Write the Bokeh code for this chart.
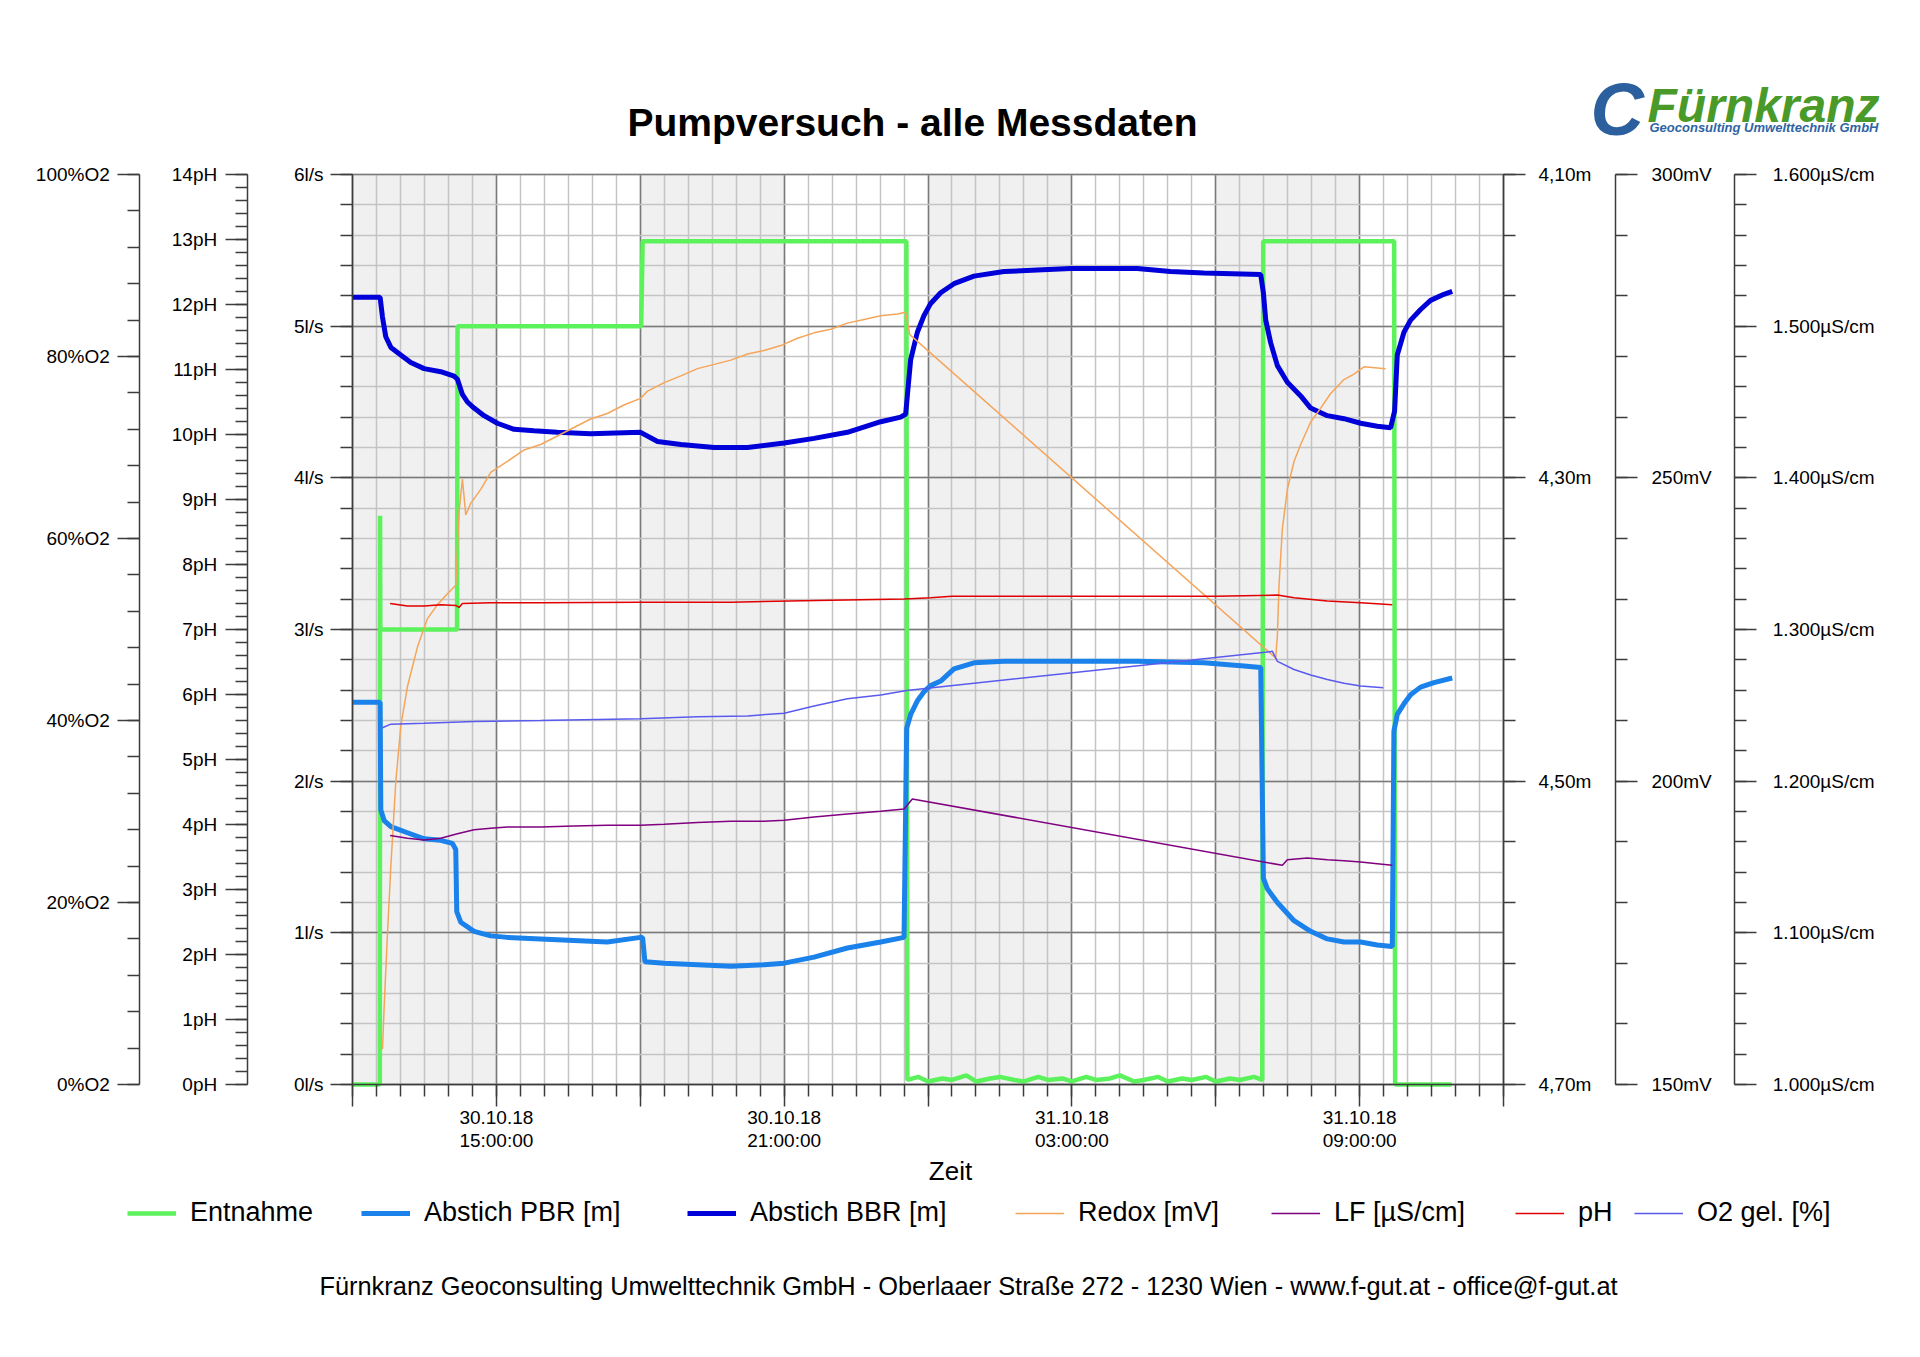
from bokeh.plotting import figure
from bokeh.models import (Range1d, LinearAxis, FixedTicker, PrintfTickFormatter,
                          Label, Legend, LegendItem, Grid)
from bokeh.embed import file_html
from bokeh.resources import INLINE

FONT = "Liberation Sans"
AXIS_COLOR = "#3c3c3c"

# time in hours after 30.10.18 12:00:00
shaded_from = [0, 6, 12, 18]
shaded_to = [3, 9, 15, 21]

entnahme_t = [0.0, 0.57, 0.575, 0.58, 2.18, 2.19, 6.02, 6.05, 11.55, 11.57, 11.8, 12.0, 12.3, 12.5, 12.8,
              13.0, 13.3, 13.5, 13.8, 14.0, 14.3, 14.5, 14.8, 15.0, 15.3, 15.5, 15.8, 16.0, 16.3, 16.5,
              16.8, 17.0, 17.3, 17.5, 17.8, 18.0, 18.3, 18.5, 18.8, 18.97, 18.99, 21.72, 21.74, 22.92]
entnahme_ls = [0.0, 0.0, 3.75, 3.0, 3.0, 5.0, 5.0, 5.56, 5.56, 0.03, 0.05, 0.02, 0.04, 0.03, 0.06,
               0.02, 0.04, 0.05, 0.03, 0.02, 0.05, 0.03, 0.04, 0.02, 0.05, 0.03, 0.04, 0.06, 0.02, 0.03,
               0.05, 0.02, 0.04, 0.03, 0.05, 0.02, 0.04, 0.03, 0.05, 0.03, 5.56, 5.56, 0.0, 0.0]

pbr_t = [0.0, 0.576, 0.59, 0.66, 0.80, 1.146, 1.493, 1.84, 2.083, 2.153, 2.174, 2.257, 2.535, 2.882,
         3.229, 3.924, 4.618, 5.313, 6.007, 6.049, 6.097, 6.5, 7.194, 7.889, 8.583, 9.0, 9.625, 10.319,
         11.014, 11.5, 11.556, 11.639, 11.778, 11.917, 12.056, 12.264, 12.542, 12.958, 13.583, 14.972,
         16.361, 17.75, 18.59, 18.938, 18.993, 19.076, 19.285, 19.632, 19.979, 20.326, 20.674, 21.021,
         21.368, 21.681, 21.715, 21.785, 21.924, 22.063, 22.271, 22.549, 22.931]
pbr_m = [4.448, 4.448, 4.519, 4.526, 4.530, 4.534, 4.538, 4.539, 4.541, 4.545, 4.586, 4.593, 4.599, 4.602,
         4.603, 4.604, 4.605, 4.606, 4.603, 4.603, 4.619, 4.620, 4.621, 4.622, 4.621, 4.620, 4.616, 4.610,
         4.606, 4.603, 4.465, 4.456, 4.447, 4.441, 4.437, 4.434, 4.426, 4.422, 4.421, 4.421,
         4.421, 4.422, 4.424, 4.425, 4.564, 4.571, 4.580, 4.592, 4.599, 4.604, 4.606, 4.606,
         4.608, 4.609, 4.467, 4.456, 4.449, 4.443, 4.438, 4.435, 4.432]

bbr_t = [0.0, 0.576, 0.625, 0.694, 0.80, 1.007, 1.215, 1.493, 1.84, 2.118, 2.188, 2.292, 2.396, 2.535,
         2.743, 3.021, 3.368, 3.785, 4.271, 4.965, 6.007, 6.361, 6.847, 7.542, 8.236, 9.0, 9.625, 10.319,
         11.014, 11.431, 11.535, 11.583, 11.639, 11.778, 11.917, 12.056, 12.264, 12.542, 12.958, 13.583,
         14.278, 14.972, 15.667, 16.361, 17.056, 17.75, 18.938, 18.993, 19.042, 19.146, 19.285, 19.493,
         19.771, 19.979, 20.326, 20.674, 21.021, 21.368, 21.646, 21.729, 21.785, 21.924, 22.063, 22.271,
         22.479, 22.757, 22.931]
bbr_m = [4.181, 4.181, 4.194, 4.207, 4.214, 4.219, 4.224, 4.228, 4.230, 4.233, 4.235, 4.245, 4.250, 4.254,
         4.259, 4.264, 4.268, 4.269, 4.270, 4.271, 4.270, 4.276, 4.278, 4.280, 4.280, 4.277, 4.274, 4.270,
         4.263, 4.260, 4.258, 4.241, 4.222, 4.204, 4.193, 4.185, 4.178, 4.172, 4.167, 4.164,
         4.163, 4.162, 4.162, 4.162, 4.164, 4.165, 4.166, 4.178, 4.196, 4.211, 4.226, 4.237,
         4.246, 4.254, 4.259, 4.261, 4.264, 4.266, 4.267, 4.256, 4.219, 4.204, 4.196, 4.189,
         4.183, 4.179, 4.177]

redox_t = [0.625, 0.66, 0.729, 0.799, 0.903, 1.007, 1.146, 1.354, 1.563, 1.771, 1.979, 2.153, 2.222,
           2.292, 2.361, 2.465, 2.674, 2.882, 3.229, 3.576, 3.924, 4.271, 4.618, 4.965, 5.313, 5.66,
           6.007, 6.153, 6.5, 6.847, 7.194, 7.542, 7.889, 8.236, 8.583, 8.931, 9.278, 9.625, 9.972,
           10.319, 10.667, 11.014, 11.361, 11.535, 11.62, 19.25, 19.285, 19.319, 19.389, 19.493, 19.632,
           19.771, 19.979, 20.188, 20.396, 20.674, 20.882, 21.09, 21.542]
redox_mv = [155.8, 162.8, 174.8, 185.9, 199.9, 209.1, 215.6, 222.1, 226.8, 229.1, 230.9, 232.3, 244.4,
            249.8, 243.9, 245.8, 248.1, 250.9, 252.7, 254.6, 255.5, 256.9, 258.3, 259.7, 260.6, 262.0,
            263.1, 264.3, 265.7, 266.8, 268.0, 268.7, 269.4, 270.4, 271.0, 271.8, 273.0, 273.9, 274.5,
            275.5, 276.1, 276.7, 277.0, 277.3, 273.6, 220.3, 224.0, 232.3, 241.6, 248.1, 252.7,
            255.5, 259.2, 261.5, 263.9, 266.2, 267.1, 268.3, 268.0]

lf_t = [0.785, 1.146, 1.493, 1.84, 2.188, 2.535, 2.882, 3.229, 3.924, 4.618, 5.313, 6.007, 6.5, 7.194,
        7.889, 8.583, 9.0, 9.625, 10.319, 11.014, 11.5, 11.674, 19.39, 19.493, 19.91, 20.326, 20.674,
        21.021, 21.368, 21.681]
lf_us = [1164.2, 1162.3, 1161.2, 1162.3, 1165.3, 1167.9, 1169.0, 1169.8, 1169.8, 1170.5, 1170.9, 1170.9,
         1171.6, 1172.7, 1173.5, 1173.5, 1174.2, 1176.4, 1178.3, 1180.1, 1181.6, 1188.3, 1144.5, 1148.2,
         1149.3, 1148.2, 1147.5, 1146.7, 1145.6, 1144.5]

ph_t = [0.785, 1.146, 1.493, 1.84, 2.153, 2.222, 2.292, 2.882, 3.924, 6.007, 7.889, 9.972, 11.5, 12.056,
        12.5, 18.0, 19.285, 19.632, 20.326, 21.021, 21.681]
ph_v = [7.40, 7.36, 7.36, 7.38, 7.37, 7.34, 7.40, 7.41, 7.41, 7.42, 7.42, 7.45, 7.47, 7.49,
        7.51, 7.51, 7.53, 7.49, 7.44, 7.41, 7.38]

o2_t = [0.625, 0.799, 1.493, 2.535, 3.924, 6.007, 7.194, 8.236, 9.0, 9.625, 10.319, 11.014, 11.556,
        19.181, 19.285, 19.632, 19.979, 20.326, 20.674, 21.021, 21.493]
o2_pct = [39.2, 39.6, 39.7, 39.9, 40.0, 40.2, 40.4, 40.5, 40.8, 41.6, 42.4, 42.8, 43.3,
          47.6, 46.5, 45.6, 45.0, 44.5, 44.1, 43.8, 43.6]

time_labels = {3: "30.10.18\n15:00:00", 9: "30.10.18\n21:00:00",
               15: "31.10.18\n03:00:00", 21: "31.10.18\n09:00:00"}
m_ticks = [4.1, 4.3, 4.5, 4.7]
us_ticks = [1000, 1100, 1200, 1300, 1400, 1500, 1600]

# page layout in pixels: the frame fills the whole canvas, the data area sits inside it
W, H = 1904, 1341
DATA_LEFT, DATA_RIGHT, DATA_TOP, DATA_BOTTOM = 352, 1503, 174, 1084
PX_PER_H = (DATA_RIGHT - DATA_LEFT) / 24
PX_PER_LS = (DATA_BOTTOM - DATA_TOP) / 6


def t_at(px):
    return (px - DATA_LEFT) / PX_PER_H


def ls_at(py):
    return (DATA_BOTTOM - py) / PX_PER_LS


LO, HI = ls_at(H), ls_at(0)


def style_axis(ax, standoff, bounds, where):
    ax.bounds = bounds
    ax.fixed_location = where
    ax.axis_line_color = AXIS_COLOR
    ax.axis_line_width = 1.5
    ax.major_tick_line_color = AXIS_COLOR
    ax.major_tick_line_width = 1.5
    ax.minor_tick_line_color = AXIS_COLOR
    ax.minor_tick_line_width = 1.5
    ax.major_tick_out = 22
    ax.major_tick_in = 0
    ax.minor_tick_out = 12
    ax.minor_tick_in = 0
    ax.major_label_standoff = standoff
    ax.major_label_text_font = FONT
    ax.major_label_text_font_size = "19px"
    ax.major_label_text_color = "black"


p = figure(width=W, height=H, output_backend="svg", toolbar_location=None,
           x_range=Range1d(t_at(0), t_at(W)), y_range=Range1d(LO, HI), min_border=0)
p.outline_line_color = None
p.background_fill_color = "white"
p.border_fill_color = "white"

p.extra_y_ranges = {
    "ph": Range1d(LO * 14 / 6, HI * 14 / 6),
    "o2": Range1d(LO * 100 / 6, HI * 100 / 6),
    "m": Range1d(4.70 - LO * 0.1, 4.70 - HI * 0.1),
    "mv": Range1d(150 + LO * 25, 150 + HI * 25),
    "us": Range1d(1000 + LO * 100, 1000 + HI * 100),
}

# x axis
xa = p.xaxis[0]
xa.ticker = FixedTicker(ticks=list(range(0, 25, 3)), minor_ticks=[i * 0.5 for i in range(49)])
xa.major_label_overrides = {t: time_labels.get(t, "") for t in range(0, 25, 3)}
style_axis(xa, 0, (0, 24), 0)
xa.major_label_text_line_height = 1.13

# left axes
ya = p.yaxis[0]
ya.ticker = FixedTicker(ticks=list(range(0, 7)), minor_ticks=[i * 0.2 for i in range(31)])
ya.formatter = PrintfTickFormatter(format="%dl/s")
style_axis(ya, 7, (0, 6), 0)

ph_axis = LinearAxis(y_range_name="ph",
                     ticker=FixedTicker(ticks=list(range(0, 15)), minor_ticks=[i * 0.2 for i in range(71)]),
                     formatter=PrintfTickFormatter(format="%dpH"))
style_axis(ph_axis, 8, (0, 14), t_at(246.7))
p.add_layout(ph_axis, "left")

o2_axis = LinearAxis(y_range_name="o2",
                     ticker=FixedTicker(ticks=list(range(0, 101, 20)), minor_ticks=list(range(0, 101, 4))),
                     formatter=PrintfTickFormatter(format="%d%%O2"))
style_axis(o2_axis, 8, (0, 100), t_at(139.3))
p.add_layout(o2_axis, "left")

# right axes
m_axis = LinearAxis(y_range_name="m",
                    ticker=FixedTicker(ticks=m_ticks, minor_ticks=[round(4.10 + 0.04 * i, 2) for i in range(16)]))
m_axis.major_label_overrides = {t: f"{t:.2f}".replace(".", ",") + "m" for t in m_ticks}
style_axis(m_axis, 13, (4.10, 4.70), 24)
p.add_layout(m_axis, "right")

mv_axis = LinearAxis(y_range_name="mv",
                     ticker=FixedTicker(ticks=[150, 200, 250, 300], minor_ticks=list(range(150, 301, 10))),
                     formatter=PrintfTickFormatter(format="%dmV"))
style_axis(mv_axis, 14, (150, 300), t_at(1615))
p.add_layout(mv_axis, "right")

us_axis = LinearAxis(y_range_name="us",
                     ticker=FixedTicker(ticks=us_ticks, minor_ticks=list(range(1000, 1601, 20))))
us_axis.major_label_overrides = {t: f"{t // 1000}.{t % 1000:03d}µS/cm" for t in us_ticks}
style_axis(us_axis, 16, (1000, 1600), t_at(1734.3))
p.add_layout(us_axis, "right")

# grid, limited to the data area
xg, yg = p.xgrid[0], p.ygrid[0]
xg.bounds, yg.bounds = (0, 24), (0, 6)
if "cross_bounds" in Grid.properties():
    xg.cross_bounds, yg.cross_bounds = (0, 6), (0, 24)
    for g in (xg, yg):
        g.grid_line_color = "#7a7a7a"
        g.grid_line_width = 1.5
        g.minor_grid_line_color = "#c4c4c4"
        g.minor_grid_line_width = 1.5
else:
    xg.visible = yg.visible = False
    minor_x = [i * 0.5 for i in range(49)]
    minor_y = [i * 0.2 for i in range(31)]
    p.segment(x0=minor_x, y0=0, x1=minor_x, y1=6, line_color="#c4c4c4", line_width=1.5, level="underlay")
    p.segment(x0=0, y0=minor_y, x1=24, y1=minor_y, line_color="#c4c4c4", line_width=1.5, level="underlay")
    p.segment(x0=list(range(0, 25, 3)), y0=0, x1=list(range(0, 25, 3)), y1=6,
              line_color="#7a7a7a", line_width=1.5, level="underlay")
    p.segment(x0=0, y0=list(range(7)), x1=24, y1=list(range(7)),
              line_color="#7a7a7a", line_width=1.5, level="underlay")

p.quad(left=shaded_from, right=shaded_to, bottom=0, top=6,
       fill_color="#f0f0f0", line_color=None, level="image")

# series
r_ent = p.line(entnahme_t, entnahme_ls, line_color="#5cf25c", line_width=4.5)
r_pbr = p.line(pbr_t, pbr_m, y_range_name="m", line_color="#1a82ea", line_width=5)
r_bbr = p.line(bbr_t, bbr_m, y_range_name="m", line_color="#0000d8", line_width=5)
r_redox = p.line(redox_t, redox_mv, y_range_name="mv", line_color="#f5a55a", line_width=1.5)
r_lf = p.line(lf_t, lf_us, y_range_name="us", line_color="#800080", line_width=1.5)
r_ph = p.line(ph_t, ph_v, y_range_name="ph", line_color="#e00000", line_width=1.5)
r_o2 = p.line(o2_t, o2_pct, y_range_name="o2", line_color="#5a5aee", line_width=1.5)

# legend row below the chart, one entry per legend so each sits where the reference has it
legend_entries = [("Entnahme", r_ent, 127), ("Abstich PBR [m]", r_pbr, 361), ("Abstich BBR [m]", r_bbr, 687),
                  ("Redox [mV]", r_redox, 1015), ("LF [µS/cm]", r_lf, 1271), ("pH", r_ph, 1515),
                  ("O2 gel. [%]", r_o2, 1634)]
for label, rend, x in legend_entries:
    lg = Legend(items=[LegendItem(label=label, renderers=[rend])], location=(x, H - 1228))
    lg.label_text_font = FONT
    lg.label_text_font_size = "27px"
    lg.label_text_color = "black"
    lg.glyph_width = 49
    lg.glyph_height = 20
    lg.label_standoff = 14
    lg.padding = 0
    lg.margin = 0
    lg.border_line_color = None
    lg.background_fill_alpha = 0
    p.add_layout(lg)


def text_at(x, baseline, text, size, style="normal", color="black", align="left"):
    # x and baseline in pixels from the top left of the canvas
    p.add_layout(Label(x=x, y=H - baseline, x_units="screen", y_units="screen", text=text,
                       text_font=FONT, text_font_size=size, text_font_style=style, text_color=color,
                       text_align=align, text_baseline="alphabetic"))


text_at(912, 122, "Pumpversuch - alle Messdaten", "39px", "bold", align="center")
text_at(950, 1170, "Zeit", "26px", align="center")
text_at(968, 1285, "Fürnkranz Geoconsulting Umwelttechnik GmbH - Oberlaaer Straße 272 - 1230 Wien - "
                   "www.f-gut.at - office@f-gut.at", "25.4px", align="center")

# logo
text_at(1590, 109, "C", "74px", "bold italic", "#2c5f9e")
text_at(1647, 105, "Fürnkranz", "48px", "bold italic", "#4a9a2a")
text_at(1649, 127, "Geoconsulting Umwelttechnik GmbH", "13px", "bold italic", "#2f64a3")

open("out.html", "w").write(file_html(p, INLINE))
